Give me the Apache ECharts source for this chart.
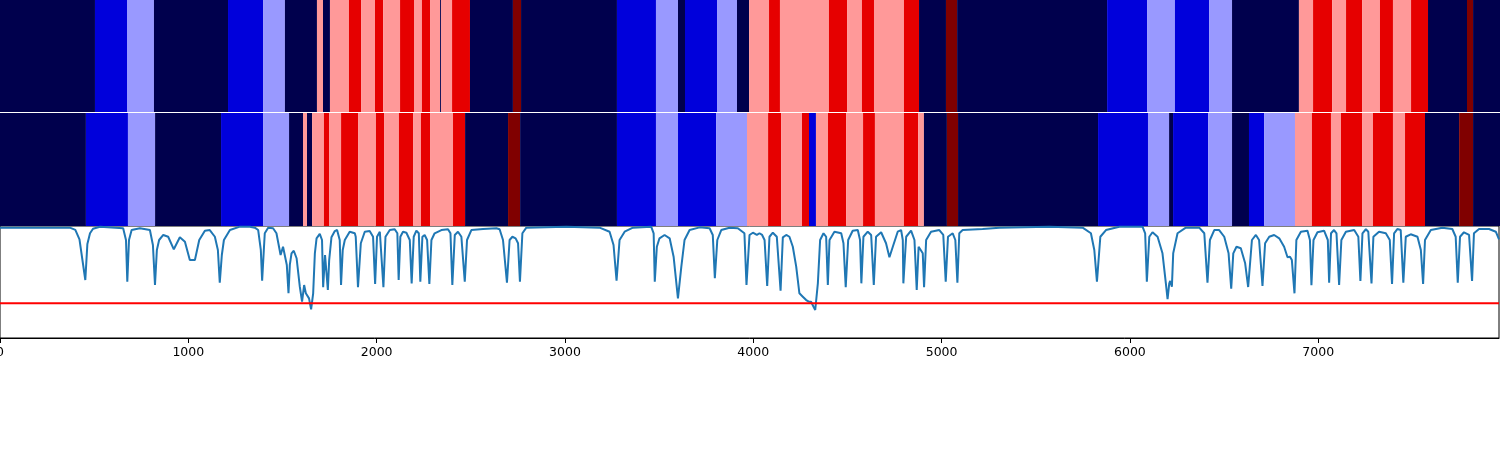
<!DOCTYPE html>
<html>
<head>
<meta charset="utf-8">
<script src="https://cdn.jsdelivr.net/npm/echarts@6/dist/echarts.min.js"></script>
<style>
  html, body { margin: 0; padding: 0; background: #fff; }
  #main { width: 1500px; height: 450px; }
</style>
</head>
<body>
<div id="main"></div>
<script>
// sample axis
var X_MAX = 7960;
var xTicks = [0, 1000, 2000, 3000, 4000, 5000, 6000, 7000];

// state colours (seismic, 6 levels): 0 navy .. 5 dark red
var stateColors = ['#00004d', '#0000db', '#9999ff', '#ff9999', '#e60000', '#800000'];

// top strip: segment edges and the state of each segment
var stripAEdges = [0, 504, 674, 817, 1210, 1396, 1512, 1682, 1714, 1751, 1852, 1916, 1990, 2033,
  2123, 2197, 2239, 2282, 2335, 2340, 2399, 2494, 2722, 2765, 3274, 3481, 3598, 3635, 3805, 3911,
  3975, 4081, 4139, 4399, 4495, 4574, 4638, 4797, 4877, 5020, 5079, 5875, 6087, 6235, 6416, 6538,
  6893, 6968, 7069, 7143, 7228, 7323, 7392, 7488, 7578, 7785, 7817, 7960];
var stripAStates = [0, 1, 2, 0, 1, 2, 0, 3, 0, 3, 4, 3, 4, 3, 4, 3, 4, 3, 0, 3, 4, 0, 5, 0, 1, 2, 0, 1, 2, 0,
  3, 4, 3, 4, 3, 4, 3, 4, 0, 5, 0, 1, 2, 1, 2, 0, 3, 4, 3, 4, 3, 4, 3, 4, 0, 5, 0];

// second strip
var stripBEdges = [0, 456, 679, 823, 1173, 1396, 1534, 1608, 1629, 1656, 1719, 1746, 1810, 1900,
  1995, 2038, 2117, 2192, 2234, 2282, 2404, 2468, 2696, 2760, 3274, 3481, 3598, 3800, 3964, 4076,
  4145, 4256, 4293, 4330, 4394, 4490, 4580, 4643, 4797, 4872, 4903, 5025, 5084, 5827, 6092, 6204,
  6225, 6411, 6538, 6628, 6708, 6872, 6962, 7063, 7116, 7228, 7286, 7392, 7456, 7562, 7743, 7817, 7960];
var stripBStates = [0, 1, 2, 0, 1, 2, 0, 3, 0, 3, 4, 3, 4, 3, 4, 3, 4, 3, 4, 3, 4, 0, 5, 0, 1, 2, 1, 2, 3, 4,
  3, 4, 1, 3, 4, 3, 4, 3, 4, 3, 0, 5, 0, 1, 2, 0, 1, 2, 0, 1, 2, 3, 4, 3, 4, 3, 4, 3, 4, 0, 5, 0];

// bottom panel signal [sample, value]
var signal = [
  [0, 0.985], [371, 0.985], [400, 0.965], [422, 0.88], [453, 0.518], [464, 0.84], [478, 0.935], [494, 0.975], [531, 0.994],
  [654, 0.98], [669, 0.875], [676, 0.503], [685, 0.875], [699, 0.964], [743, 0.98], [796, 0.964],
  [812, 0.83], [823, 0.473], [833, 0.786], [845, 0.875], [867, 0.92], [893, 0.904], [923, 0.792],
  [955, 0.899], [982, 0.86], [1008, 0.696], [1035, 0.696], [1058, 0.875], [1088, 0.958], [1114, 0.964],
  [1141, 0.904], [1157, 0.786], [1167, 0.494], [1178, 0.741], [1189, 0.875], [1221, 0.964], [1274, 0.994],
  [1327, 0.994], [1353, 0.985], [1371, 0.964], [1385, 0.786], [1392, 0.512], [1401, 0.786], [1406, 0.935],
  [1424, 0.985], [1450, 0.98], [1468, 0.935], [1490, 0.741], [1503, 0.815], [1512, 0.83], [1523, 0.652],
  [1532, 0.399], [1539, 0.652], [1548, 0.756], [1560, 0.779], [1575, 0.712], [1592, 0.458], [1604, 0.324],
  [1615, 0.473], [1624, 0.399], [1631, 0.413], [1641, 0.354], [1652, 0.256], [1663, 0.399], [1672, 0.756],
  [1681, 0.89], [1698, 0.929], [1710, 0.875], [1716, 0.453], [1726, 0.741], [1734, 0.756], [1741, 0.429],
  [1748, 0.696], [1760, 0.899], [1778, 0.955], [1790, 0.964], [1804, 0.875], [1811, 0.473], [1820, 0.786],
  [1831, 0.875], [1857, 0.949], [1884, 0.935], [1889, 0.904], [1901, 0.453], [1916, 0.846], [1937, 0.949],
  [1963, 0.955], [1981, 0.904], [1992, 0.482], [2002, 0.904], [2017, 0.949], [2027, 0.935], [2036, 0.453],
  [2047, 0.904], [2070, 0.964], [2096, 0.971], [2110, 0.935], [2117, 0.518], [2126, 0.904], [2140, 0.949],
  [2158, 0.94], [2176, 0.875], [2186, 0.488], [2197, 0.904], [2211, 0.958], [2224, 0.935], [2232, 0.503],
  [2243, 0.904], [2255, 0.92], [2268, 0.875], [2280, 0.482], [2291, 0.875], [2308, 0.935], [2344, 0.964],
  [2379, 0.971], [2392, 0.935], [2402, 0.473], [2415, 0.92], [2432, 0.949], [2450, 0.904], [2468, 0.503],
  [2480, 0.875], [2503, 0.964], [2565, 0.973], [2636, 0.98], [2653, 0.971], [2671, 0.875], [2692, 0.494],
  [2706, 0.875], [2721, 0.904], [2738, 0.89], [2751, 0.846], [2761, 0.503], [2774, 0.935], [2795, 0.985],
  [3007, 0.994], [3184, 0.985], [3237, 0.949], [3258, 0.83], [3274, 0.512], [3290, 0.875], [3317, 0.949],
  [3361, 0.985], [3458, 0.994], [3471, 0.935], [3477, 0.503], [3488, 0.815], [3502, 0.89], [3529, 0.92],
  [3556, 0.89], [3577, 0.726], [3600, 0.354], [3618, 0.637], [3635, 0.875], [3662, 0.964], [3715, 0.988],
  [3768, 0.98], [3785, 0.92], [3796, 0.533], [3809, 0.875], [3830, 0.964], [3874, 0.985], [3918, 0.98],
  [3953, 0.935], [3964, 0.473], [3980, 0.92], [3998, 0.94], [4019, 0.92], [4033, 0.935], [4047, 0.92],
  [4060, 0.875], [4074, 0.464], [4086, 0.904], [4104, 0.94], [4125, 0.904], [4145, 0.422], [4157, 0.899],
  [4175, 0.92], [4192, 0.904], [4210, 0.815], [4228, 0.637], [4245, 0.399], [4263, 0.369], [4281, 0.339],
  [4295, 0.324], [4307, 0.324], [4320, 0.279], [4329, 0.25], [4343, 0.488], [4355, 0.875], [4373, 0.935],
  [4387, 0.904], [4396, 0.473], [4405, 0.875], [4431, 0.949], [4467, 0.935], [4479, 0.846], [4491, 0.453],
  [4504, 0.875], [4528, 0.958], [4555, 0.964], [4567, 0.875], [4574, 0.488], [4585, 0.904], [4608, 0.949],
  [4626, 0.92], [4640, 0.473], [4652, 0.904], [4679, 0.944], [4705, 0.846], [4723, 0.721], [4741, 0.815],
  [4767, 0.949], [4785, 0.964], [4794, 0.875], [4797, 0.488], [4812, 0.904], [4838, 0.958], [4856, 0.875],
  [4868, 0.429], [4878, 0.815], [4888, 0.83], [4900, 0.756], [4907, 0.453], [4918, 0.875], [4944, 0.949],
  [4988, 0.964], [5009, 0.92], [5022, 0.503], [5034, 0.904], [5059, 0.935], [5073, 0.875], [5084, 0.494],
  [5094, 0.935], [5112, 0.964], [5218, 0.973], [5307, 0.985], [5572, 0.994], [5749, 0.985], [5793, 0.935],
  [5811, 0.786], [5825, 0.503], [5843, 0.904], [5873, 0.964], [5944, 0.994], [6067, 0.994], [6081, 0.935],
  [6090, 0.503], [6103, 0.904], [6120, 0.944], [6147, 0.904], [6173, 0.756], [6191, 0.488], [6200, 0.346],
  [6209, 0.488], [6214, 0.509], [6223, 0.458], [6230, 0.756], [6253, 0.935], [6297, 0.985], [6368, 0.985],
  [6395, 0.935], [6412, 0.494], [6425, 0.875], [6448, 0.964], [6474, 0.964], [6501, 0.904], [6524, 0.756],
  [6538, 0.44], [6549, 0.756], [6566, 0.815], [6589, 0.801], [6612, 0.667], [6628, 0.455], [6648, 0.875],
  [6669, 0.92], [6686, 0.875], [6704, 0.464], [6718, 0.846], [6740, 0.904], [6766, 0.92], [6793, 0.89],
  [6819, 0.815], [6837, 0.721], [6850, 0.726], [6860, 0.696], [6874, 0.399], [6884, 0.875], [6908, 0.949],
  [6943, 0.958], [6956, 0.875], [6964, 0.471], [6975, 0.875], [6996, 0.944], [7031, 0.958], [7051, 0.875],
  [7058, 0.494], [7068, 0.935], [7084, 0.964], [7097, 0.935], [7111, 0.473], [7123, 0.875], [7147, 0.949],
  [7191, 0.964], [7213, 0.904], [7224, 0.509], [7235, 0.935], [7253, 0.971], [7266, 0.949], [7283, 0.488],
  [7293, 0.904], [7323, 0.949], [7359, 0.935], [7380, 0.875], [7392, 0.482], [7403, 0.935], [7420, 0.973],
  [7438, 0.964], [7452, 0.494], [7465, 0.904], [7491, 0.926], [7527, 0.904], [7545, 0.786], [7557, 0.482],
  [7567, 0.875], [7598, 0.964], [7659, 0.985], [7712, 0.973], [7730, 0.904], [7741, 0.494], [7753, 0.904],
  [7774, 0.944], [7801, 0.92], [7817, 0.509], [7827, 0.935], [7854, 0.973], [7907, 0.973], [7943, 0.949],
  [7960, 0.881]
];
var threshold = 0.31;

function toSegments(edges, states) {
  var out = [];
  for (var i = 0; i < states.length; i++) {
    out.push([edges[i], edges[i + 1], states[i]]);
  }
  return out;
}

function renderStrip(params, api) {
  var p0 = api.coord([api.value(0), 1]);
  var p1 = api.coord([api.value(1), 0]);
  return {
    type: 'rect',
    shape: { x: p0[0], y: p0[1], width: p1[0] - p0[0], height: p1[1] - p0[1] },
    style: { fill: stateColors[api.value(2)] }
  };
}

var myChart = echarts.init(document.getElementById('main'));

var hiddenX = function (idx) {
  return { gridIndex: idx, type: 'value', min: 0, max: X_MAX, show: false };
};
var hiddenY = function (idx) {
  return { gridIndex: idx, type: 'value', min: 0, max: 1, show: false };
};
var panel = function (top, height, right, framed) {
  return {
    left: 0, right: right, top: top, height: height, containLabel: false,
    outerBoundsMode: 'none', show: framed, borderColor: '#000', borderWidth: 1
  };
};

var option = {
  animation: false,
  textStyle: { fontFamily: 'DejaVu Sans' },
  grid: [panel(0, 112, 0, false), panel(113, 113, 0, false), panel(226, 112, 1, true)],
  xAxis: [
    hiddenX(0),
    hiddenX(1),
    {
      gridIndex: 2, type: 'value', min: 0, max: X_MAX, interval: 1000,
      splitLine: { show: false },
      axisLine: { show: true, lineStyle: { color: '#000', width: 1 } },
      axisTick: { show: true, length: 5, lineStyle: { color: '#000', width: 1 } },
      axisLabel: {
        color: '#000', fontSize: 12.5, margin: 8, fontFamily: 'DejaVu Sans',
        showMaxLabel: false, hideOverlap: false,
        formatter: function (v) { return xTicks.indexOf(v) >= 0 ? String(v) : ''; }
      }
    }
  ],
  yAxis: [hiddenY(0), hiddenY(1), hiddenY(2)],
  series: [
    {
      type: 'custom', xAxisIndex: 0, yAxisIndex: 0, renderItem: renderStrip,
      encode: { x: [0, 1] }, data: toSegments(stripAEdges, stripAStates), clip: true
    },
    {
      type: 'custom', xAxisIndex: 1, yAxisIndex: 1, renderItem: renderStrip,
      encode: { x: [0, 1] }, data: toSegments(stripBEdges, stripBStates), clip: true
    },
    {
      type: 'line', xAxisIndex: 2, yAxisIndex: 2, data: signal,
      showSymbol: false, smooth: false, clip: true,
      lineStyle: { color: '#1f77b4', width: 2 }
    },
    {
      type: 'line', xAxisIndex: 2, yAxisIndex: 2,
      data: [[0, threshold], [X_MAX, threshold]],
      showSymbol: false, lineStyle: { color: '#ff0000', width: 2 }
    }
  ]
};

myChart.setOption(option);
window.onresize = myChart.resize;
</script>
</body>
</html>
